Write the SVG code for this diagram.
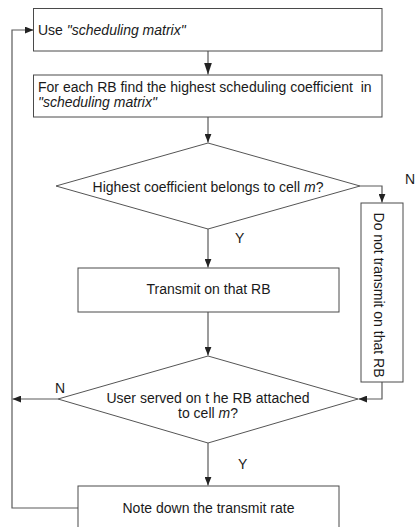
<svg xmlns="http://www.w3.org/2000/svg" width="419" height="527" viewBox="0 0 419 527">
<style>
.box{fill:#fff;stroke:#4a4a4a;stroke-width:1}
.dia{fill:#fff;stroke:#555;stroke-width:1}
.con{fill:none;stroke:#5a5a5a;stroke-width:1.2}
text{font-family:"Liberation Sans",Arial,sans-serif;font-size:14px;fill:#1a1a1a}
.c{text-anchor:middle}
</style>
<defs>
<marker id="ah" viewBox="0 0 10 8" refX="10" refY="4" markerWidth="9" markerHeight="7" markerUnits="userSpaceOnUse" orient="auto">
<path d="M0,0 L10,4 L0,8 z" fill="#222"/>
</marker>
<marker id="ahL" viewBox="0 0 12 8" refX="12" refY="4" markerWidth="12" markerHeight="8" markerUnits="userSpaceOnUse" orient="auto">
<path d="M0,0 L12,4 L0,8 z" fill="#222"/>
</marker>
</defs>
<g id="connectors">
<path class="con" d="M208,51 V74.5" marker-end="url(#ahL)"/>
<path class="con" d="M208,117 V142.5" marker-end="url(#ah)"/>
<path class="con" d="M360,186 H382 V202.5" marker-end="url(#ah)"/>
<path class="con" d="M208,229 V267.5" marker-end="url(#ah)"/>
<path class="con" d="M208,312 V355.5" marker-end="url(#ah)"/>
<path class="con" d="M382,382 V399 H358.5" marker-end="url(#ah)"/>
<path class="con" d="M58,399 H12.5" marker-end="url(#ah)"/>
<path class="con" d="M208,443 V485.5" marker-end="url(#ah)"/>
<path class="con" d="M78,508 H12 V30 H33.5" marker-end="url(#ah)"/>
</g>
<g id="n1">
<rect class="box" x="33.5" y="8.5" width="348.5" height="42.5"/>
<text x="38" y="35">Use <tspan font-style="italic">"scheduling matrix"</tspan></text>
</g>
<g id="n2">
<rect class="box" x="33.5" y="75" width="348.5" height="42"/>
<text x="38" y="92" xml:space="preserve">For each RB find the highest scheduling coefficient  in</text>
<text x="38" y="107" font-style="italic">"scheduling matrix"</text>
</g>
<g id="n3">
<polygon class="dia" points="208,143 360,186 208,229 56,186"/>
<text class="c" x="208" y="192">Highest coefficient belongs to cell <tspan font-style="italic">m</tspan>?</text>
</g>
<g id="n4">
<rect class="box" x="361" y="203" width="42" height="179"/>
<text class="c" transform="translate(373.5,295) rotate(90)">Do not transmit on that RB</text>
</g>
<g id="n5">
<rect class="box" x="78" y="268" width="261" height="44"/>
<text class="c" x="208.5" y="294">Transmit on that RB</text>
</g>
<g id="n6">
<polygon class="dia" points="208,356 358,399 208,443 58,399"/>
<text class="c" x="208" y="403" xml:space="preserve">User served on t he RB attached</text>
<text class="c" x="208" y="418">to cell <tspan font-style="italic">m</tspan>?</text>
</g>
<g id="n7">
<rect class="box" x="78" y="486" width="261" height="50"/>
<text class="c" x="208.5" y="513">Note down the transmit rate</text>
</g>
<g id="labels">
<text x="405" y="184">N</text>
<text x="235" y="243">Y</text>
<text x="55" y="393">N</text>
<text x="238" y="469">Y</text>
</g>
</svg>
